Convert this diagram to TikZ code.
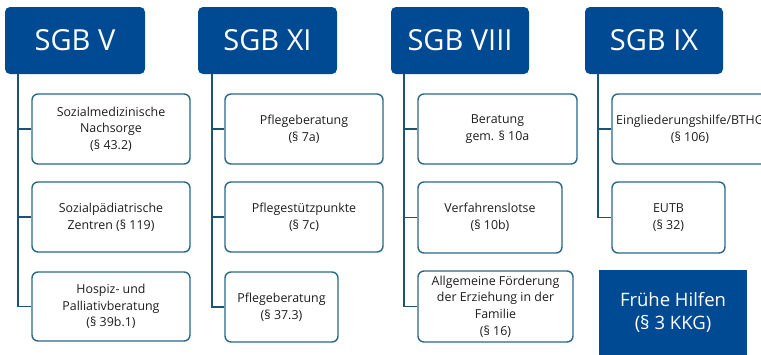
\documentclass[tikz,border=0pt]{standalone}
\usepackage{fontspec}
\setmainfont{Open Sans}
\definecolor{hdblue}{HTML}{004A93}
\definecolor{bxline}{HTML}{2A6887}
\definecolor{cnline}{HTML}{1D5273}
\definecolor{txt}{HTML}{1E1E1E}
\tikzset{
  header/.style={rectangle, rounded corners=5pt, fill=hdblue, text=white, font=\fontsize{29}{33}\selectfont, inner sep=0pt},
  child/.style={rectangle, rounded corners=6pt, draw=bxline, line width=1.4pt, fill=white, text=txt, align=center, font=\fontsize{12.4}{16.6}\selectfont, inner sep=0pt},
  solidbox/.style={rectangle, fill=hdblue, text=white, align=center, font=\fontsize{18.5}{23.5}\selectfont, inner sep=0pt},
  conn/.style={draw=cnline, line width=1.8pt}
}
\begin{document}
\begin{tikzpicture}[x=1pt,y=-1pt]
\useasboundingbox (0,0) rectangle (761,354);
\clip (0,0) rectangle (761,354);
% headers
\node[header, minimum width=140pt, minimum height=67pt] (h1) at (75,40.5) {SGB V};
\node[header, minimum width=139pt, minimum height=67pt] (h2) at (267.5,40.5) {SGB XI};
\node[header, minimum width=138pt, minimum height=67pt] (h3) at (460,40.5) {SGB VIII};
\node[header, minimum width=138pt, minimum height=67pt] (h4) at (654,40.5) {SGB IX};
% tree coordinates
\coordinate (t1) at (18,74);
\coordinate (t2) at (212,74);
\coordinate (t3) at (404,74);
\coordinate (t4) at (598,74);
% children geometry
\path node[child, minimum width=158pt, minimum height=70pt, draw=none, fill=none] (a1) at (111,129) {}
      node[child, minimum width=158pt, minimum height=70pt, draw=none, fill=none] (a2) at (111,217) {}
      node[child, minimum width=158pt, minimum height=69pt, draw=none, fill=none] (a3) at (111,306.5) {}
      node[child, minimum width=158pt, minimum height=70pt, draw=none, fill=none] (b1) at (304,129) {}
      node[child, minimum width=158pt, minimum height=70pt, draw=none, fill=none] (b2) at (304,217) {}
      node[child, minimum width=113pt, minimum height=70pt, draw=none, fill=none] (b3) at (281.5,307) {}
      node[child, minimum width=159pt, minimum height=70pt, draw=none, fill=none] (c1) at (497.5,129) {}
      node[child, minimum width=144pt, minimum height=71pt, draw=none, fill=none] (c2) at (490,217.5) {}
      node[child, minimum width=155pt, minimum height=71pt, draw=none, fill=none] (c3) at (495.5,306.5) {}
      node[child, minimum width=156pt, minimum height=70pt, draw=none, fill=none] (d1) at (690,129) {}
      node[child, minimum width=113pt, minimum height=71pt, draw=none, fill=none] (d2) at (668.5,217.5) {};
% connectors
\draw[conn] (t1) |- (a3.west);
\draw[conn] (t1 |- a1.west) -- (a1.west);
\draw[conn] (t1 |- a2.west) -- (a2.west);
\draw[conn] (t2) |- (b3.west);
\draw[conn] (t2 |- b1.west) -- (b1.west);
\draw[conn] (t2 |- b2.west) -- (b2.west);
\draw[conn] (t3) |- (c3.west);
\draw[conn] (t3 |- c1.west) -- (c1.west);
\draw[conn] (t3 |- c2.west) -- (c2.west);
\draw[conn] (t4) |- (d2.west);
\draw[conn] (t4 |- d1.west) -- (d1.west);
% child boxes
\node[child, minimum width=158pt, minimum height=70pt] at (a1) {Sozialmedizinische\\Nachsorge\\(§ 43.2)};
\node[child, minimum width=158pt, minimum height=70pt] at (a2) {Sozialpädiatrische\\Zentren (§ 119)};
\node[child, minimum width=158pt, minimum height=69pt] at (a3) {Hospiz- und\\Palliativberatung\\(§ 39b.1)};
\node[child, minimum width=158pt, minimum height=70pt] at (b1) {Pflegeberatung\\(§ 7a)};
\node[child, minimum width=158pt, minimum height=70pt] at (b2) {Pflegestützpunkte\\(§ 7c)};
\node[child, minimum width=113pt, minimum height=70pt] at (b3) {Pflegeberatung\\(§ 37.3)};
\node[child, minimum width=159pt, minimum height=70pt] at (c1) {Beratung\\gem. § 10a};
\node[child, minimum width=144pt, minimum height=71pt] at (c2) {Verfahrenslotse\\(§ 10b)};
\node[child, minimum width=155pt, minimum height=71pt] at (c3) {Allgemeine Förderung\\der Erziehung in der\\Familie\\(§ 16)};
\node[child, minimum width=156pt, minimum height=70pt] at (d1) {Eingliederungshilfe/BTHG\\(§ 106)};
\node[child, minimum width=113pt, minimum height=71pt] at (d2) {EUTB\\(§ 32)};
\node[solidbox, minimum width=148pt, minimum height=85pt] (fh) at (673,312.5) {Frühe Hilfen\\(§ 3 KKG)};
\end{tikzpicture}
\end{document}
